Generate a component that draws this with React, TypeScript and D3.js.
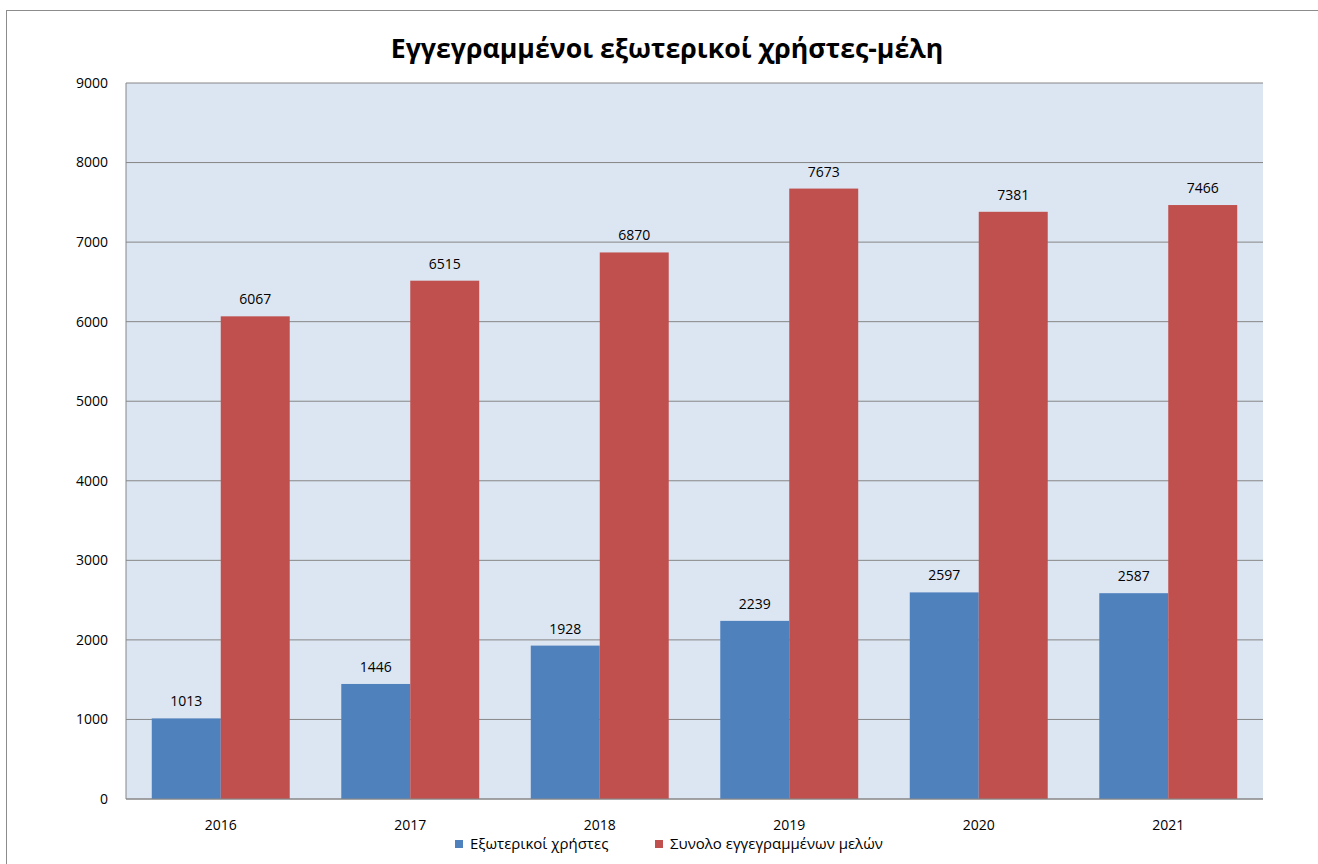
import React from "react";
import { scaleBand, scaleLinear } from "d3";

const years = ["2016", "2017", "2018", "2019", "2020", "2021"];
const externalUsers = [1013, 1446, 1928, 2239, 2597, 2587];
const totalMembers = [6067, 6515, 6870, 7673, 7381, 7466];
const seriesNames = ["Εξωτερικοί χρήστες", "Συνολο εγγεγραμμένων μελών"];
const seriesColors = ["#4F81BD", "#C0504D"];
const yTicks = [0, 1000, 2000, 3000, 4000, 5000, 6000, 7000, 8000, 9000];

const W = 1318;
const H = 864;
const plot = { left: 126, top: 83, right: 1263, bottom: 799 };
const font = "'Open Sans', 'DejaVu Sans', sans-serif";

const App = () => {
  const x0 = scaleBand().domain(years).range([plot.left, plot.right]).padding(0);
  const gap = x0.bandwidth() * 0.272;
  const x1 = scaleBand()
    .domain(["0", "1"])
    .range([gap / 2, x0.bandwidth() - gap / 2])
    .padding(0);
  const y = scaleLinear().domain([0, 9000]).range([plot.bottom, plot.top]);

  const series = [externalUsers, totalMembers];

  return (
    <svg
      width={W}
      height={H}
      style={{ position: "absolute", left: 0, top: 0, background: "#fff" }}
      fontFamily={font}
    >
      {/* chart frame */}
      <rect x={6.5} y={10.5} width={W + 10} height={H + 10} fill="#fff" stroke="#8c8c8c" />

      <text x={667} y={58} textAnchor="middle" fontSize={26.7} fontWeight="bold" fill="#000">
        Εγγεγραμμένοι εξωτερικοί χρήστες-μέλη
      </text>

      <rect
        x={plot.left}
        y={plot.top}
        width={plot.right - plot.left}
        height={plot.bottom - plot.top}
        fill="#DCE6F2"
      />

      {yTicks.map((t) => (
        <g key={t}>
          <line x1={plot.left} x2={plot.right} y1={y(t)} y2={y(t)} stroke="#868686" strokeWidth={1} />
          <text x={108} y={y(t)} dy="0.35em" textAnchor="end" fontSize={14} fill="#000">
            {t}
          </text>
        </g>
      ))}

      {years.map((yr, i) => (
        <g key={yr} transform={`translate(${x0(yr)},0)`}>
          {series.map((vals, s) => (
            <g key={s}>
              <rect
                x={x1(String(s))}
                y={y(vals[i])}
                width={x1.bandwidth()}
                height={plot.bottom - y(vals[i])}
                fill={seriesColors[s]}
              />
              <text
                x={(x1(String(s)) || 0) + x1.bandwidth() / 2}
                y={y(vals[i]) - 12}
                textAnchor="middle"
                fontSize={14}
                fill="#000"
              >
                {vals[i]}
              </text>
            </g>
          ))}
          <text x={x0.bandwidth() / 2} y={830} textAnchor="middle" fontSize={14} fill="#000">
            {yr}
          </text>
        </g>
      ))}

      {/* plot border */}
      <line x1={plot.left} x2={plot.left} y1={plot.top} y2={plot.bottom} stroke="#868686" />
      <line x1={plot.left} x2={plot.right} y1={plot.bottom} y2={plot.bottom} stroke="#868686" />

      {/* legend */}
      {seriesNames.map((name, s) => {
        const lx = s === 0 ? 455 : 655;
        return (
          <g key={name}>
            <rect x={lx} y={840} width={8} height={8} fill={seriesColors[s]} />
            <text x={lx + 15} y={849} fontSize={15} fill="#000">
              {name}
            </text>
          </g>
        );
      })}
    </svg>
  );
};

export default App;
